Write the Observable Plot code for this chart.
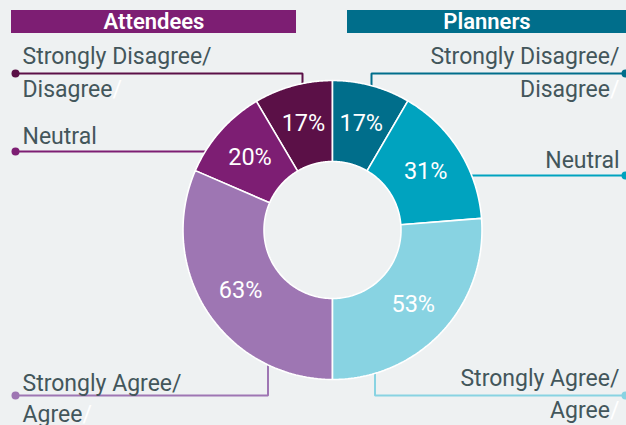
<!DOCTYPE html>
<html>
<head>
<meta charset="utf-8">
<script src="https://cdn.jsdelivr.net/npm/d3@7"></script>
<script src="https://cdn.jsdelivr.net/npm/@observablehq/plot@0.6"></script>
<style>
  html, body { margin: 0; padding: 0; background: #eef1f2; }
  #chart svg { display: block; }
</style>
</head>
<body>
<div id="chart"></div>
<script>
// ---- data ----
const groups = ["Attendees", "Planners"];
const categories = ["Strongly Disagree/Disagree", "Neutral", "Strongly Agree/Agree"];
const attendees = [17, 20, 63];
const planners = [17, 31, 53];
const labelLines = [["Strongly Disagree/", "Disagree/"], ["Neutral"], ["Strongly Agree/", "Agree/"]];

// ---- styles ----
const attendeeColors = ["#5b1047", "#7d1e73", "#9e76b3"];
const plannerColors = ["#006e8b", "#00a3bf", "#88d3e2"];
const textColor = "#43565b";
const font = "Roboto, 'Open Sans', sans-serif";

// ---- layout ----
const W = 626, H = 425;
const C = {cx: 332, cy: 229.5, r0: 68.5, r1: 149.5, rl: 110};
const sides = [
  {dir: -1, values: attendees, colors: attendeeColors, headerColor: attendeeColors[1],
   textX: 22, anchor: "start", dotX: 15,
   header: {x1: 11, x2: 296, y1: 10, y2: 33},
   labels: [
     {lineY: 73, elbowX: 302, baselines: [63.5, 96.5]},
     {lineY: 151, elbowX: null, baselines: [143.5]},
     {lineY: 395, elbowX: 267.5, baselines: [390, 421.5]}
   ]},
  {dir: 1, values: planners, colors: plannerColors, headerColor: plannerColors[0],
   textX: 619, anchor: "end", dotX: 625,
   header: {x1: 347, x2: 630, y1: 10, y2: 33},
   labels: [
     {lineY: 73, elbowX: 371, baselines: [63.5, 96.5]},
     {lineY: 175, elbowX: null, baselines: [167]},
     {lineY: 395, elbowX: 374.5, baselines: [385, 417]}
   ]}
];

const pt = (dir, theta, r) => [C.cx + dir * r * Math.sin(theta), C.cy - r * Math.cos(theta)];

const sliceMarks = [];
const pctLabels = [];
const connectors = [];
const dots = [];
const labelTexts = [];
const headers = [];

sides.forEach((s, gi) => {
  const total = d3.sum(s.values);
  let acc = 0;
  s.values.forEach((v, i) => {
    const a0 = acc / total * Math.PI;
    acc += v;
    const a1 = acc / total * Math.PI;
    const n = 80;
    const poly = [];
    for (let k = 0; k <= n; k++) { const t = a0 + (a1 - a0) * k / n; const [x, y] = pt(s.dir, t, C.r1); poly.push({x, y}); }
    for (let k = n; k >= 0; k--) { const t = a0 + (a1 - a0) * k / n; const [x, y] = pt(s.dir, t, C.r0); poly.push({x, y}); }
    poly.push(poly[0]);
    sliceMarks.push(Plot.line(poly, {x: "x", y: "y", fill: s.colors[i], stroke: "white", strokeWidth: 1.6, strokeLinejoin: "miter"}));
    const [lx, ly] = pt(s.dir, (a0 + a1) / 2, C.rl);
    pctLabels.push({x: lx, y: ly, text: `${v}%`});

    // connectors
    const L = s.labels[i];
    const rm = (C.r0 + C.r1) / 2;
    let path;
    if (L.elbowX != null) {
      const dx = L.elbowX - C.cx;
      const sign = L.lineY < C.cy ? -1 : 1;
      const endY = C.cy + sign * Math.sqrt(rm * rm - dx * dx);
      path = [{x: s.dotX, y: L.lineY}, {x: L.elbowX, y: L.lineY}, {x: L.elbowX, y: endY}];
    } else {
      const dy = L.lineY - C.cy;
      const endX = C.cx + s.dir * Math.sqrt(rm * rm - dy * dy);
      path = [{x: s.dotX, y: L.lineY}, {x: endX, y: L.lineY}];
    }
    connectors.push(Plot.line(path, {x: "x", y: "y", stroke: s.colors[i], strokeWidth: 2, strokeLinejoin: "miter"}));
    dots.push({x: s.dotX, y: L.lineY, color: s.colors[i]});
    labelLines[i].forEach((t, li) => labelTexts.push({x: s.textX, y: L.baselines[li], text: t, anchor: s.anchor}));
  });
  headers.push({...s.header, text: groups[gi], color: s.headerColor});
});

const chart = Plot.plot({
  width: W, height: H,
  margin: 0,
  x: {domain: [0, W], range: [0, W], axis: null},
  y: {domain: [0, H], range: [0, H], axis: null},
  style: {background: "#eef1f2", fontFamily: font},
  marks: [
    Plot.rect(headers, {x1: "x1", x2: "x2", y1: "y1", y2: "y2", fill: "color"}),
    Plot.text(headers, {x: d => (d.x1 + Math.min(d.x2, W)) / 2, y: 28.5, text: "text", fill: "white",
      fontSize: 22, fontWeight: 600, lineAnchor: "bottom", fontFamily: font, letterSpacing: "1px"}),
    ...connectors,
    Plot.dot(dots, {x: "x", y: "y", r: 4, fill: "color", stroke: null}),
    ...sliceMarks,
    Plot.text(pctLabels, {x: "x", y: "y", text: "text", fill: "white", fontSize: 23.5, fontFamily: font, letterSpacing: "1px"}),
    Plot.text(labelTexts.filter(d => d.anchor === "start"), {x: "x", y: "y", text: "text", fill: textColor,
      fontSize: 23, textAnchor: "start", lineAnchor: "bottom", fontFamily: font}),
    Plot.text(labelTexts.filter(d => d.anchor === "end"), {x: "x", y: "y", text: "text", fill: textColor,
      fontSize: 23, textAnchor: "end", lineAnchor: "bottom", fontFamily: font})
  ]
});

// color trailing slash of second label lines white (as in reference)
d3.select(chart).selectAll("text").each(function() {
  const el = d3.select(this);
  const t = el.text();
  if (t === "Disagree/" || t === "Agree/") {
    el.text(t.slice(0, -1));
    el.append("tspan").attr("fill", "white").text("/");
  }
});

document.getElementById("chart").appendChild(chart);
</script>
</body>
</html>
